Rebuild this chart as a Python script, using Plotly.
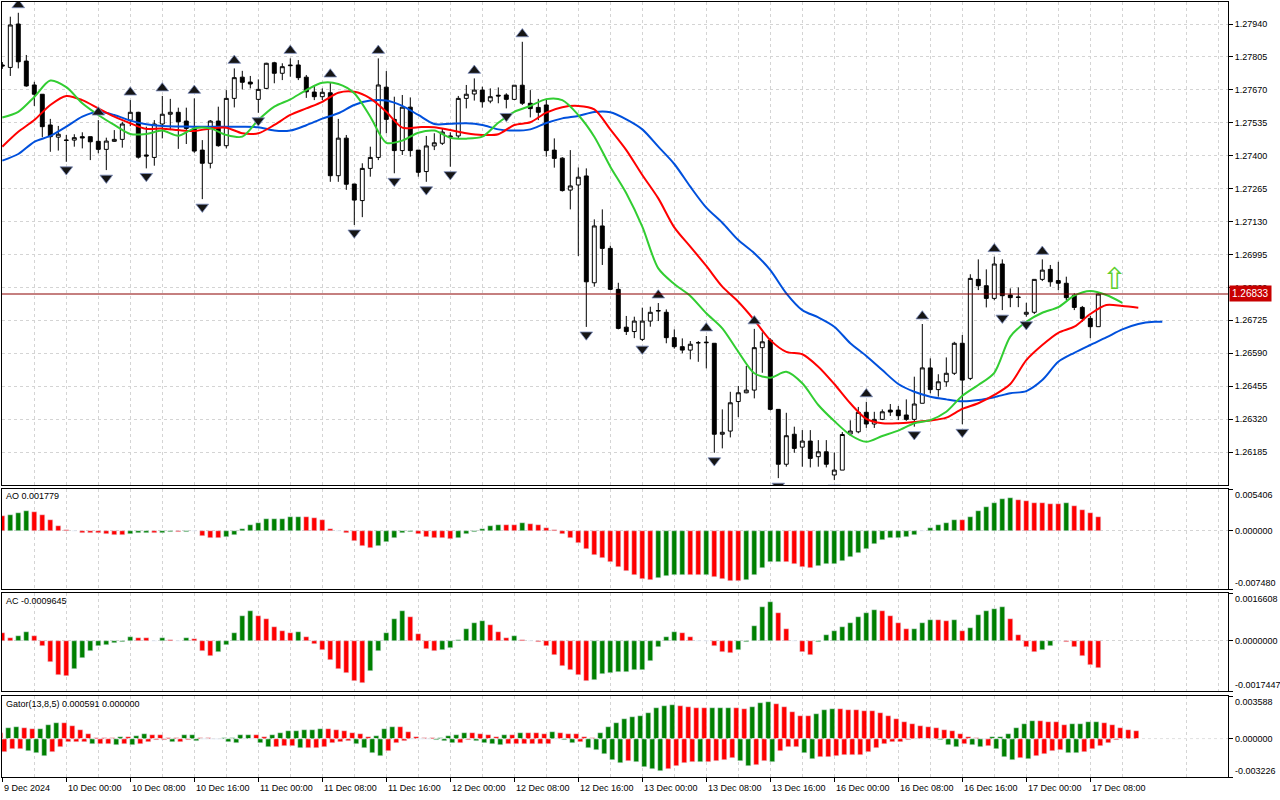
import plotly.graph_objects as go

# EURUSD-like H1 chart, bars numbered from the first visible candle (9 Dec 16:00)
OPEN = [1.27772, 1.27762, 1.27940, 1.27788, 1.27690, 1.27652, 1.27526, 1.27476, 1.27464, 1.27464,
        1.27478, 1.27478, 1.27459, 1.27426, 1.27459, 1.27467, 1.27546, 1.27578, 1.27403, 1.27393,
        1.27530, 1.27570, 1.27578, 1.27542, 1.27512, 1.27423, 1.27369, 1.27542, 1.27441, 1.27635,
        1.27722, 1.27702, 1.27631, 1.27676, 1.27781, 1.27738, 1.27769, 1.27772, 1.27722, 1.27661,
        1.27642, 1.27658, 1.27318, 1.27472, 1.27284, 1.27216, 1.27348, 1.27393, 1.27681, 1.27549,
        1.27421, 1.27599, 1.27423, 1.27335, 1.27440, 1.27451, 1.27481, 1.27481, 1.27635, 1.27653,
        1.27669, 1.27624, 1.27648, 1.27649, 1.27631, 1.27689, 1.27615, 1.27598, 1.27608, 1.27423,
        1.27390, 1.27259, 1.27280, 1.27317, 1.26879, 1.27112, 1.27020, 1.26852, 1.26697, 1.26679,
        1.26647, 1.26722, 1.26763, 1.26758, 1.26654, 1.26617, 1.26603, 1.26633, 1.26633, 1.26631,
        1.26258, 1.26271, 1.26392, 1.26428, 1.26439, 1.26613, 1.26644, 1.26360, 1.26135, 1.26258,
        1.26205, 1.26230, 1.26166, 1.26186, 1.26091, 1.26111, 1.26259, 1.26268, 1.26348, 1.26300,
        1.26319, 1.26357, 1.26357, 1.26337, 1.26319, 1.26385, 1.26530, 1.26441, 1.26473, 1.26508,
        1.26631, 1.26487, 1.26893, 1.26867, 1.26815, 1.26956, 1.26829, 1.26821, 1.26750, 1.26758,
        1.26893, 1.26934, 1.26888, 1.26877, 1.26828, 1.26778, 1.26733, 1.26699]
HIGH = [1.27784, 1.27970, 1.27986, 1.27813, 1.27703, 1.27653, 1.27551, 1.27522, 1.27485, 1.27488,
        1.27496, 1.27478, 1.27546, 1.27474, 1.27505, 1.27539, 1.27628, 1.27580, 1.27519, 1.27546,
        1.27645, 1.27633, 1.27597, 1.27597, 1.27635, 1.27464, 1.27546, 1.27601, 1.27669, 1.27758,
        1.27748, 1.27727, 1.27713, 1.27781, 1.27785, 1.27779, 1.27799, 1.27792, 1.27731, 1.27690,
        1.27676, 1.27702, 1.27551, 1.27485, 1.27284, 1.27369, 1.27437, 1.27799, 1.27747, 1.27642,
        1.27649, 1.27639, 1.27423, 1.27481, 1.27492, 1.27510, 1.27496, 1.27645, 1.27690, 1.27717,
        1.27683, 1.27676, 1.27680, 1.27656, 1.27689, 1.27867, 1.27669, 1.27633, 1.27633, 1.27471,
        1.27394, 1.27423, 1.27352, 1.27348, 1.27139, 1.27180, 1.27031, 1.26879, 1.26743, 1.26740,
        1.26777, 1.26781, 1.26796, 1.26770, 1.26688, 1.26651, 1.26640, 1.26640, 1.26661, 1.26631,
        1.26360, 1.26432, 1.26456, 1.26538, 1.26690, 1.26676, 1.26651, 1.26360, 1.26346, 1.26289,
        1.26275, 1.26275, 1.26234, 1.26234, 1.26183, 1.26267, 1.26315, 1.26370, 1.26391, 1.26350,
        1.26360, 1.26382, 1.26374, 1.26401, 1.26494, 1.26710, 1.26569, 1.26504, 1.26573, 1.26637,
        1.26665, 1.26914, 1.26975, 1.26934, 1.26986, 1.26975, 1.26856, 1.26860, 1.26797, 1.26893,
        1.26975, 1.26952, 1.26965, 1.26904, 1.26836, 1.26784, 1.26743, 1.26837]
LOW = [1.27756, 1.27727, 1.27758, 1.27683, 1.27604, 1.27476, 1.27416, 1.27421, 1.27375, 1.27437,
       1.27430, 1.27382, 1.27410, 1.27341, 1.27457, 1.27433, 1.27521, 1.27388, 1.27348, 1.27359,
       1.27471, 1.27505, 1.27428, 1.27448, 1.27412, 1.27222, 1.27348, 1.27437, 1.27430, 1.27598,
       1.27672, 1.27676, 1.27576, 1.27673, 1.27697, 1.27710, 1.27724, 1.27710, 1.27637, 1.27628,
       1.27628, 1.27293, 1.27293, 1.27260, 1.27116, 1.27148, 1.27314, 1.27382, 1.27492, 1.27328,
       1.27403, 1.27396, 1.27314, 1.27293, 1.27423, 1.27444, 1.27355, 1.27471, 1.27594, 1.27626,
       1.27597, 1.27615, 1.27615, 1.27594, 1.27628, 1.27608, 1.27557, 1.27546, 1.27396, 1.27351,
       1.27253, 1.27180, 1.26989, 1.26698, 1.26863, 1.26952, 1.26849, 1.26688, 1.26665, 1.26652,
       1.26640, 1.26699, 1.26722, 1.26631, 1.26609, 1.26590, 1.26565, 1.26555, 1.26528, 1.26182,
       1.26200, 1.26245, 1.26328, 1.26426, 1.26405, 1.26510, 1.26356, 1.26078, 1.26125, 1.26182,
       1.26125, 1.26122, 1.26125, 1.26122, 1.26070, 1.26111, 1.26251, 1.26262, 1.26284, 1.26284,
       1.26316, 1.26333, 1.26316, 1.26313, 1.26289, 1.26385, 1.26426, 1.26412, 1.26453, 1.26501,
       1.26299, 1.26480, 1.26849, 1.26778, 1.26807, 1.26767, 1.26779, 1.26779, 1.26740, 1.26751,
       1.26886, 1.26863, 1.26849, 1.26808, 1.26767, 1.26719, 1.26652, 1.26699]
CLOSE = [1.27768, 1.27936, 1.27785, 1.27686, 1.27652, 1.27519, 1.27478, 1.27488, 1.27463, 1.27474,
         1.27473, 1.27457, 1.27426, 1.27460, 1.27467, 1.27530, 1.27578, 1.27394, 1.27399, 1.27530,
         1.27570, 1.27578, 1.27539, 1.27512, 1.27419, 1.27369, 1.27542, 1.27441, 1.27635, 1.27720,
         1.27701, 1.27694, 1.27672, 1.27779, 1.27738, 1.27765, 1.27771, 1.27720, 1.27662, 1.27642,
         1.27660, 1.27318, 1.27472, 1.27283, 1.27218, 1.27348, 1.27393, 1.27690, 1.27549, 1.27421,
         1.27599, 1.27421, 1.27332, 1.27440, 1.27453, 1.27497, 1.27477, 1.27635, 1.27652, 1.27669,
         1.27621, 1.27642, 1.27645, 1.27631, 1.27689, 1.27615, 1.27593, 1.27578, 1.27421, 1.27389,
         1.27257, 1.27276, 1.27312, 1.26883, 1.27112, 1.27020, 1.26852, 1.26692, 1.26679, 1.26722,
         1.26722, 1.26758, 1.26765, 1.26654, 1.26617, 1.26603, 1.26627, 1.26633, 1.26635, 1.26258,
         1.26266, 1.26387, 1.26428, 1.26439, 1.26613, 1.26637, 1.26360, 1.26135, 1.26252, 1.26200,
         1.26230, 1.26159, 1.26186, 1.26135, 1.26111, 1.26257, 1.26271, 1.26348, 1.26300, 1.26319,
         1.26350, 1.26349, 1.26334, 1.26319, 1.26382, 1.26530, 1.26441, 1.26473, 1.26508, 1.26631,
         1.26480, 1.26897, 1.26867, 1.26815, 1.26956, 1.26826, 1.26818, 1.26819, 1.26758, 1.26893,
         1.26931, 1.26883, 1.26877, 1.26818, 1.26778, 1.26733, 1.26699, 1.26833]
BARS = list(range(len(CLOSE)))

# Bill Williams fractals (bar numbers)
UP_FRACTALS = [2, 12, 16, 20, 24, 29, 36, 41, 47, 59, 65, 82, 88, 94, 108, 115, 124, 130]
DOWN_FRACTALS = [8, 13, 18, 25, 32, 44, 49, 53, 56, 63, 73, 80, 89, 97, 104, 114, 120, 125, 128]

# Alligator lines, read every second bar (they run past the last candle because of the shift)
JAW_BARS = list(range(0, 145, 2)) + [145]
JAW = [1.27380, 1.27407, 1.27457, 1.27481, 1.27519, 1.27560, 1.27580, 1.27567, 1.27544, 1.27529,
       1.27522, 1.27520, 1.27519, 1.27519, 1.27519, 1.27519, 1.27517, 1.27503, 1.27503, 1.27525,
       1.27552, 1.27574, 1.27608, 1.27626, 1.27626, 1.27604, 1.27567, 1.27530, 1.27531, 1.27533,
       1.27526, 1.27508, 1.27503, 1.27508, 1.27534, 1.27553, 1.27563, 1.27579, 1.27578, 1.27549,
       1.27508, 1.27437, 1.27366, 1.27273, 1.27187, 1.27125, 1.27054, 1.27000, 1.26931, 1.26836,
       1.26767, 1.26737, 1.26699, 1.26631, 1.26579, 1.26521, 1.26464, 1.26432, 1.26412, 1.26401,
       1.26393, 1.26398, 1.26410, 1.26426, 1.26435, 1.26480, 1.26555, 1.26592, 1.26624, 1.26655,
       1.26688, 1.26710, 1.26719, 1.26719]
TEETH_BARS = list(range(0, 143, 2))
TEETH = [1.27437, 1.27498, 1.27546, 1.27608, 1.27645, 1.27628, 1.27594, 1.27560, 1.27533, 1.27510,
         1.27511, 1.27505, 1.27501, 1.27512, 1.27515, 1.27492, 1.27492, 1.27526, 1.27567, 1.27594,
         1.27621, 1.27658, 1.27662, 1.27635, 1.27580, 1.27515, 1.27517, 1.27517, 1.27505, 1.27492,
         1.27485, 1.27488, 1.27526, 1.27537, 1.27577, 1.27599, 1.27604, 1.27590, 1.27508, 1.27423,
         1.27321, 1.27225, 1.27106, 1.27027, 1.26948, 1.26863, 1.26801, 1.26726, 1.26644, 1.26596,
         1.26586, 1.26535, 1.26464, 1.26385, 1.26321, 1.26303, 1.26303, 1.26308, 1.26314, 1.26326,
         1.26362, 1.26385, 1.26419, 1.26464, 1.26562, 1.26624, 1.26674, 1.26699, 1.26751, 1.26788,
         1.26784, 1.26777]
LIPS_BARS = list(range(0, 141, 2))
LIPS = [1.27557, 1.27580, 1.27641, 1.27708, 1.27681, 1.27615, 1.27567, 1.27526, 1.27489, 1.27489,
        1.27503, 1.27482, 1.27512, 1.27512, 1.27485, 1.27478, 1.27546, 1.27601, 1.27631, 1.27669,
        1.27699, 1.27694, 1.27656, 1.27560, 1.27453, 1.27462, 1.27494, 1.27503, 1.27474, 1.27470,
        1.27478, 1.27535, 1.27580, 1.27604, 1.27632, 1.27628, 1.27567, 1.27478, 1.27355, 1.27246,
        1.27109, 1.26938, 1.26874, 1.26825, 1.26754, 1.26692, 1.26596, 1.26508, 1.26490, 1.26514,
        1.26467, 1.26378, 1.26312, 1.26255, 1.26227, 1.26251, 1.26273, 1.26303, 1.26316, 1.26350,
        1.26416, 1.26460, 1.26510, 1.26658, 1.26719, 1.26756, 1.26779, 1.26826, 1.26845, 1.26829,
        1.26797]

AO = [0.00199, 0.00203, 0.00232, 0.00254, 0.00241, 0.00211, 0.00144, 0.00063, 0.00013, -0.00004,
      -0.00021, -0.00030, -0.00031, -0.00042, -0.00046, -0.00047, -0.00034, -0.00025, -0.00024, -0.00030,
      -0.00021, -0.00017, -0.00018, -0.00008, -0.00004, -0.00063, -0.00085, -0.00086, -0.00084, -0.00046,
      0.00021, 0.00072, 0.00106, 0.00148, 0.00152, 0.00153, 0.00178, 0.00186, 0.00184, 0.00165,
      0.00140, 0.00030, -0.00002, -0.00030, -0.00127, -0.00199, -0.00215, -0.00190, -0.00148, -0.00085,
      -0.00025, -0.00008, -0.00034, -0.00076, -0.00085, -0.00086, -0.00106, -0.00085, -0.00034, -0.00013,
      0.00021, 0.00063, 0.00076, 0.00075, 0.00074, 0.00106, 0.00093, 0.00076, 0.00042, 0.00013,
      -0.00042, -0.00093, -0.00156, -0.00236, -0.00304, -0.00351, -0.00401, -0.00465, -0.00515, -0.00562,
      -0.00621, -0.00634, -0.00604, -0.00579, -0.00570, -0.00569, -0.00571, -0.00572, -0.00569, -0.00592,
      -0.00625, -0.00646, -0.00648, -0.00636, -0.00570, -0.00477, -0.00405, -0.00400, -0.00402, -0.00420,
      -0.00465, -0.00478, -0.00452, -0.00431, -0.00422, -0.00393, -0.00338, -0.00287, -0.00232, -0.00173,
      -0.00118, -0.00093, -0.00085, -0.00072, -0.00046, -0.00004, 0.00038, 0.00076, 0.00101, 0.00139,
      0.00137, 0.00177, 0.00254, 0.00304, 0.00359, 0.00414, 0.00423, 0.00401, 0.00380, 0.00355,
      0.00354, 0.00353, 0.00352, 0.00356, 0.00325, 0.00275, 0.00228, 0.00178]
AC = [0.00026, 0.00009, 0.00017, 0.00031, 0.00017, -0.00017, -0.00074, -0.00118, -0.00123, -0.00098,
      -0.00060, -0.00036, -0.00019, -0.00016, -0.00009, -0.00005, 0.00012, 0.00011, 0.00009, -0.00001,
      0.00009, 0.00002, 0.00000, 0.00009, 0.00007, -0.00036, -0.00053, -0.00040, -0.00016, 0.00027,
      0.00085, 0.00102, 0.00085, 0.00077, 0.00048, 0.00034, 0.00028, 0.00031, 0.00012, -0.00011,
      -0.00031, -0.00067, -0.00099, -0.00112, -0.00138, -0.00146, -0.00104, -0.00036, 0.00027, 0.00077,
      0.00102, 0.00084, 0.00024, -0.00030, -0.00036, -0.00033, -0.00026, 0.00003, 0.00041, 0.00062,
      0.00069, 0.00054, 0.00032, 0.00009, 0.00017, 0.00002, -0.00002, -0.00005, -0.00019, -0.00048,
      -0.00087, -0.00101, -0.00119, -0.00138, -0.00135, -0.00116, -0.00112, -0.00110, -0.00107, -0.00102,
      -0.00101, -0.00070, -0.00023, 0.00012, 0.00032, 0.00028, 0.00012, 0.00000, -0.00002, -0.00017,
      -0.00040, -0.00041, -0.00033, -0.00005, 0.00051, 0.00117, 0.00136, 0.00095, 0.00041, -0.00002,
      -0.00040, -0.00048, -0.00005, 0.00020, 0.00035, 0.00048, 0.00062, 0.00081, 0.00095, 0.00106,
      0.00105, 0.00085, 0.00062, 0.00041, 0.00042, 0.00062, 0.00072, 0.00071, 0.00070, 0.00072,
      0.00034, 0.00043, 0.00089, 0.00103, 0.00109, 0.00116, 0.00077, 0.00020, -0.00020, -0.00040,
      -0.00031, -0.00017, -0.00002, -0.00003, -0.00020, -0.00053, -0.00085, -0.00096]
GATOR_UP = [0.00050, 0.00091, 0.00099, 0.00091, 0.00083, 0.00084, 0.00119, 0.00135, 0.00134, 0.00110,
            0.00069, 0.00036, 0.00008, 0.00004, 0.00003, 0.00017, 0.00017, 0.00022, 0.00036, 0.00028,
            0.00028, 0.00008, 0.00003, 0.00028, 0.00030, 0.00003, 0.00002, 0.00001, 0.00004, 0.00006,
            0.00028, 0.00029, 0.00028, 0.00010, 0.00028, 0.00050, 0.00063, 0.00064, 0.00069, 0.00077,
            0.00083, 0.00082, 0.00069, 0.00063, 0.00050, 0.00036, 0.00010, 0.00022, 0.00083, 0.00102,
            0.00100, 0.00058, 0.00017, 0.00008, 0.00002, 0.00006, 0.00022, 0.00030, 0.00044, 0.00044,
            0.00036, 0.00030, 0.00010, 0.00030, 0.00030, 0.00044, 0.00044, 0.00044, 0.00043, 0.00055,
            0.00044, 0.00036, 0.00036, 0.00010, 0.00005, 0.00044, 0.00099, 0.00132, 0.00168, 0.00182,
            0.00193, 0.00215, 0.00262, 0.00276, 0.00284, 0.00276, 0.00270, 0.00262, 0.00257, 0.00258,
            0.00259, 0.00260, 0.00258, 0.00251, 0.00270, 0.00298, 0.00306, 0.00293, 0.00265, 0.00224,
            0.00193, 0.00188, 0.00207, 0.00243, 0.00251, 0.00250, 0.00243, 0.00237, 0.00236, 0.00235,
            0.00215, 0.00193, 0.00166, 0.00141, 0.00124, 0.00110, 0.00099, 0.00086, 0.00077, 0.00063,
            0.00036, 0.00017, 0.00003, 0.00001, 0.00017, 0.00018, 0.00041, 0.00086, 0.00127, 0.00152,
            0.00151, 0.00141, 0.00138, 0.00119, 0.00124, 0.00127, 0.00141, 0.00142, 0.00132, 0.00113,
            0.00091, 0.00069, 0.00063]
GATOR_DOWN = [0.00116, 0.00083, 0.00083, 0.00102, 0.00124, 0.00144, 0.00116, 0.00069, 0.00028, 0.00028,
              0.00025, 0.00041, 0.00041, 0.00041, 0.00052, 0.00041, 0.00052, 0.00047, 0.00028, 0.00014,
              0.00014, 0.00028, 0.00028, 0.00014, 0.00019, 0.00003, 0.00003, 0.00003, 0.00028, 0.00039,
              0.00001, 0.00001, 0.00039, 0.00066, 0.00066, 0.00061, 0.00061, 0.00075, 0.00075, 0.00075,
              0.00066, 0.00039, 0.00025, 0.00019, 0.00047, 0.00075, 0.00124, 0.00144, 0.00102, 0.00033,
              0.00019, 0.00001, 0.00006, 0.00006, 0.00014, 0.00019, 0.00033, 0.00033, 0.00014, 0.00019,
              0.00033, 0.00047, 0.00052, 0.00047, 0.00047, 0.00047, 0.00047, 0.00047, 0.00047, 0.00006,
              0.00011, 0.00033, 0.00028, 0.00075, 0.00094, 0.00130, 0.00177, 0.00204, 0.00185, 0.00193,
              0.00235, 0.00259, 0.00268, 0.00254, 0.00226, 0.00204, 0.00193, 0.00196, 0.00193, 0.00185,
              0.00179, 0.00163, 0.00185, 0.00226, 0.00224, 0.00190, 0.00193, 0.00102, 0.00069, 0.00066,
              0.00124, 0.00171, 0.00152, 0.00151, 0.00144, 0.00138, 0.00137, 0.00135, 0.00116, 0.00075,
              0.00041, 0.00028, 0.00025, 0.00011, 0.00003, 0.00001, 0.00006, 0.00011, 0.00052, 0.00069,
              0.00047, 0.00052, 0.00069, 0.00061, 0.00088, 0.00157, 0.00179, 0.00166, 0.00171, 0.00144,
              0.00130, 0.00102, 0.00094, 0.00119, 0.00120, 0.00110, 0.00088, 0.00061, 0.00033, 0.00014,
              0.00006]

PRICE_TICKS = [1.26185, 1.26320, 1.26455, 1.26590, 1.26725, 1.26860, 1.26995,
               1.27130, 1.27265, 1.27400, 1.27535, 1.27670, 1.27805, 1.27940]
PRICE_RANGE = [1.260499, 1.280302]
AO_RANGE = [-0.007480, 0.005406]
AC_RANGE = [-0.0017447, 0.0016608]
GATOR_RANGE = [-0.003226, 0.003588]
LAST_PRICE = 1.26833
SIGNAL_BAR, SIGNAL_PRICE = 139, 1.26897

TIME_TICKS = list(range(0, 137, 8))
TIME_LABELS = ["9 Dec 2024", "10 Dec 00:00", "10 Dec 08:00", "10 Dec 16:00", "11 Dec 00:00",
               "11 Dec 08:00", "11 Dec 16:00", "12 Dec 00:00", "12 Dec 08:00", "12 Dec 16:00",
               "13 Dec 00:00", "13 Dec 08:00", "13 Dec 16:00", "16 Dec 00:00", "16 Dec 08:00",
               "16 Dec 16:00", "17 Dec 00:00", "17 Dec 08:00"]
CAPTIONS = ["AO 0.001779", "AC -0.0009645", "Gator(13,8,5) 0.000591 0.000000"]

GREEN = "#008000"
RED = "#ff0000"
GRID = "#d4d4d4"
FONT = "Liberation Sans"
FSIZE = 9
W, H = 1280, 800
FRACTAL_GAP = 0.00032   # distance of the fractal arrow centre from the candle extreme


def py(px):
    """pixel row -> paper y"""
    return 1 - px / H


def rising(vals):
    # MT5 colours a histogram bar green when it is above the previous one
    out = [RED]
    for a, b in zip(vals[:-1], vals[1:]):
        out.append(GREEN if b > a else RED)
    return out


fig = go.Figure()

# ── price panel ──
fig.add_trace(go.Candlestick(
    x=BARS, open=OPEN, high=HIGH, low=LOW, close=CLOSE,
    increasing=dict(line=dict(color="black", width=1), fillcolor="white"),
    decreasing=dict(line=dict(color="black", width=1), fillcolor="black"),
    whiskerwidth=0, hoverinfo="skip", showlegend=False,
))
for bars, vals, col in [(JAW_BARS, JAW, "#0050dc"), (TEETH_BARS, TEETH, "#ff0000"),
                        (LIPS_BARS, LIPS, "#32cd32")]:
    fig.add_trace(go.Scatter(x=bars, y=vals, mode="lines", showlegend=False, hoverinfo="skip",
                             line=dict(color=col, width=2, shape="spline", smoothing=0.8)))

fig.add_trace(go.Scatter(
    x=UP_FRACTALS, y=[HIGH[i] + FRACTAL_GAP for i in UP_FRACTALS], mode="markers",
    marker=dict(symbol="triangle-up", size=11, color="#151515",
                line=dict(color="#8090c0", width=0.8)),
    showlegend=False, hoverinfo="skip"))
fig.add_trace(go.Scatter(
    x=DOWN_FRACTALS, y=[LOW[i] - FRACTAL_GAP for i in DOWN_FRACTALS], mode="markers",
    marker=dict(symbol="triangle-down", size=11, color="#151515",
                line=dict(color="#8090c0", width=0.8)),
    showlegend=False, hoverinfo="skip"))

# ── oscillators ──
fig.add_trace(go.Bar(x=BARS, y=AO, marker_color=rising(AO), width=0.55,
                     xaxis="x2", yaxis="y2", showlegend=False, hoverinfo="skip"))
fig.add_trace(go.Bar(x=BARS, y=AC, marker_color=rising(AC), width=0.55,
                     xaxis="x3", yaxis="y3", showlegend=False, hoverinfo="skip"))
fig.add_trace(go.Bar(x=list(range(len(GATOR_UP))), y=GATOR_UP, marker_color=rising(GATOR_UP),
                     width=0.55, xaxis="x4", yaxis="y4", showlegend=False, hoverinfo="skip"))
fig.add_trace(go.Bar(x=list(range(len(GATOR_DOWN))), y=[-v for v in GATOR_DOWN],
                     marker_color=rising(GATOR_DOWN), width=0.55,
                     xaxis="x4", yaxis="y4", showlegend=False, hoverinfo="skip"))

# ── axes ──
X_DOM = [2 / W, 1228 / W]
X_RANGE = [-0.0375, -0.0375 + 1226 / 8]
GRID_MINOR = list(range(4, 153, 8))
GRID_MAJOR = list(range(0, 153, 8))
panels = {  # name: (top px, bottom px)
    "": (2, 485), "2": (489, 589), "3": (593, 691), "4": (696, 777),
}
axis_line = dict(showline=True, linecolor="black", linewidth=1, mirror=True, zeroline=False)
for name, (top, bot) in panels.items():
    fig.layout["xaxis" + name] = dict(
        domain=X_DOM, range=X_RANGE, anchor="y" + name, tickvals=GRID_MAJOR,
        showticklabels=False, ticks="outside" if name == "4" else "", ticklen=4,
        tickcolor="black", showgrid=True, gridcolor=GRID, griddash="3px,3px", gridwidth=1,
        minor=dict(tickvals=GRID_MINOR, showgrid=True, gridcolor=GRID, griddash="3px,3px",
                   ticks=""),
        rangeslider=dict(visible=False), fixedrange=True, **axis_line)
    if name:
        fig.layout["xaxis" + name]["matches"] = "x"
    fig.layout["yaxis" + name] = dict(
        domain=[py(bot), py(top)], anchor="x" + name, side="right", fixedrange=True,
        ticks="outside", ticklen=4, tickcolor="black", showgrid=True, gridcolor=GRID,
        griddash="3px,3px", **axis_line)

fig.layout.xaxis4.tickvals = TIME_TICKS
fig.layout.yaxis.update(range=PRICE_RANGE, tickvals=PRICE_TICKS,
                        ticktext=[f"{v:.5f}" for v in PRICE_TICKS])
sub_scales = [("2", AO_RANGE, "{:.6f}"), ("3", AC_RANGE, "{:.7f}"), ("4", GATOR_RANGE, "{:.6f}")]
for name, rng, fmt in sub_scales:
    fig.layout["yaxis" + name].update(range=rng, tickvals=[rng[0], 0, rng[1]],
                                      showticklabels=False)
    top, bot = panels[name]
    for val, anchor, ypx in [(rng[1], "top", top - 1), (0.0, "middle", None), (rng[0], "bottom", bot + 1)]:
        fig.add_annotation(
            x=1233 / W, xref="paper", xanchor="left",
            y=py(ypx) if ypx is not None else val,
            yref="paper" if ypx is not None else "y" + name,
            yanchor=anchor, text=fmt.format(val), showarrow=False,
            font=dict(family=FONT, size=FSIZE, color="black"))

# time labels under the last panel, left-aligned on their tick like MT5 does
for bar, label in zip(TIME_TICKS, TIME_LABELS):
    fig.add_annotation(x=bar, xref="x4", xanchor="left", xshift=0, y=py(781), yref="paper",
                       yanchor="top", text=label, showarrow=False,
                       font=dict(family=FONT, size=FSIZE, color="black"))

# panel captions
for ypx, text in zip([496, 601, 704], CAPTIONS):
    fig.add_annotation(x=4 / W, xref="paper", xanchor="left", y=py(ypx), yref="paper",
                       yanchor="middle", text=text, showarrow=False,
                       font=dict(family=FONT, size=FSIZE, color="black"))

# current bid line and its price tag
fig.add_shape(type="line", xref="paper", x0=X_DOM[0], x1=X_DOM[1], yref="y",
              y0=LAST_PRICE, y1=LAST_PRICE, line=dict(color="#8b0000", width=1))
fig.add_annotation(x=1229 / W, xref="paper", xanchor="left", y=LAST_PRICE, yref="y",
                   text=f"{LAST_PRICE:.5f}", showarrow=False, bgcolor="#c80000", borderpad=2,
                   font=dict(family=FONT, size=FSIZE + 1, color="white"))
# gator zero line is drawn over the bars
fig.add_shape(type="line", xref="paper", x0=X_DOM[0], x1=X_DOM[1], yref="y4", y0=0, y1=0,
              layer="above", line=dict(color="#e6e6e6", width=1, dash="3px,3px"))
# buy signal arrow
fig.add_annotation(x=SIGNAL_BAR, y=SIGNAL_PRICE, xref="x", yref="y", text="⇧", showarrow=False,
                   font=dict(family="DejaVu Sans", size=30, color="#5fcf2f"))

fig.update_layout(
    width=W, height=H, margin=dict(l=0, r=0, t=0, b=0),
    paper_bgcolor="white", plot_bgcolor="white", bargap=0,
    font=dict(family=FONT, size=FSIZE, color="black"),
    showlegend=False,
)
fig.update_yaxes(tickfont=dict(family=FONT, size=FSIZE, color="black"))

# the page body has a default 8px margin; drop it so the 1280x800 figure sits at 0,0
fig.write_html("out.html", config={"displayModeBar": False},
               post_script="document.body.style.margin = '0';")
